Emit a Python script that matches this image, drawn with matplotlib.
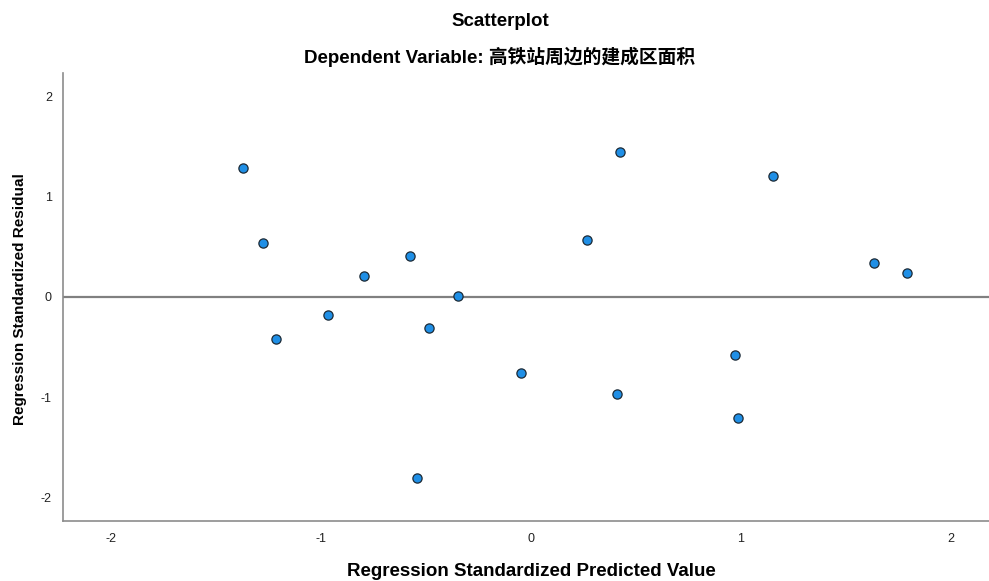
import matplotlib
matplotlib.use("Agg")
import matplotlib.pyplot as plt
from matplotlib import font_manager

# Standardized predicted values / residuals
pred = [-1.371, -1.276, -1.214, -0.967, -0.795, -0.576, -0.348, -0.486, -0.543,
        -0.048, 0.267, 0.424, 0.410, 0.971, 0.986, 1.152, 1.633, 1.790]
resid = [1.287, 0.539, -0.419, -0.180, 0.209, 0.409, 0.010, -0.309, -1.806,
         -0.758, 0.569, 1.446, -0.968, -0.579, -1.207, 1.207, 0.339, 0.239]
ticks = [-2, -1, 0, 1, 2]

main_font = ['Liberation Sans', 'Noto Sans CJK SC', 'DejaVu Sans']

# the reference uses a condensed face for the y label and tick labels
installed = {f.name for f in font_manager.fontManager.ttflist}
if 'Liberation Sans Narrow' in installed:
    narrow_font = ['Liberation Sans Narrow']
    ylabel_size, tick_size = 13.5, 10
else:
    narrow_font = ['Liberation Sans']
    ylabel_size, tick_size = 11, 9

fig = plt.figure(figsize=(9.89, 5.81), dpi=100)
ax = fig.add_axes([0.0637, 0.1033, 0.9363, 0.7711])

ax.axhline(0, color='#808080', lw=1.6, zorder=1)
ax.scatter(pred, resid, s=44, color='#1f8fe6', edgecolors='#1c2a36',
           linewidths=0.9, zorder=3)

ax.set_xlim(-2.229, 2.181)
ax.set_ylim(-2.234, 2.234)
ax.set_xticks(ticks)
ax.set_yticks(ticks)
ax.set_xticklabels([str(t) for t in ticks], family=narrow_font, fontsize=tick_size, color='#222222')
ax.set_yticklabels([str(t) for t in ticks], family=narrow_font, fontsize=tick_size, color='#222222')
ax.tick_params(axis='both', length=0)
ax.tick_params(axis='x', pad=9)
ax.tick_params(axis='y', pad=8)

for side in ['top', 'right']:
    ax.spines[side].set_visible(False)
for side in ['left', 'bottom']:
    ax.spines[side].set_color('#8c8c8c')
    ax.spines[side].set_linewidth(1.2)

fig.text(500 / 989, 1 - 22 / 581, 'Scatterplot', ha='center', va='center',
         family=main_font, fontsize=13.5, fontweight='bold')
fig.text(500 / 989, 1 - 57 / 581, 'Dependent Variable: 高铁站周边的建成区面积',
         ha='center', va='center', family=main_font, fontsize=13.5, fontweight='bold')
fig.text(531 / 989, 1 - 571 / 581, 'Regression Standardized Predicted Value',
         ha='center', va='center', family=main_font, fontsize=13.5, fontweight='bold')
fig.text(20 / 989, 1 - 299 / 581, 'Regression Standardized Residual',
         ha='center', va='center', rotation=90, family=narrow_font,
         fontsize=ylabel_size, fontweight='bold')

fig.savefig('out.png', dpi=100)
